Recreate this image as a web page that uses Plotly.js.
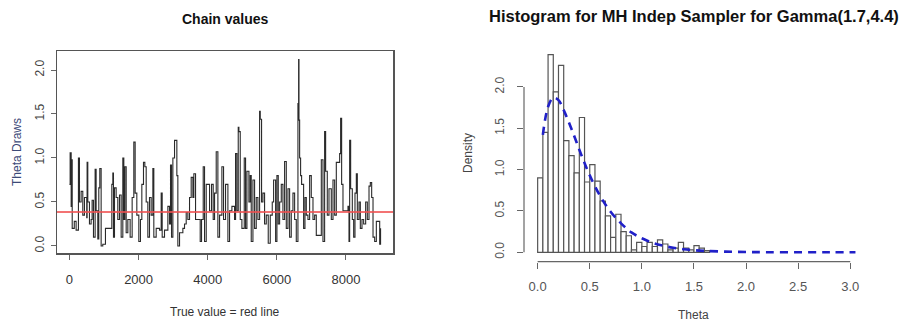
<!DOCTYPE html>
<html>
<head>
<meta charset="utf-8">
<script src="https://cdn.plot.ly/plotly-3.0.1.min.js"></script>
<style>html,body{margin:0;padding:0;background:#fff;}#chart{width:901px;height:321px;}</style>
</head>
<body>
<div id="chart"></div>
<script>
// ---- Left panel: MCMC chain trace ----
const chainIter = [0,20,50,60,80,140,193,260,290,338,386,434,500,511,531,579,627,656,695,743,772,820,849,878,917,965,1042,1158,1226,1255,1274,1303,1351,1399,1448,1496,1544,1573,1602,1641,1689,1756,1814,1862,1901,1949,2007,2055,2094,2142,2181,2220,2268,2316,2364,2413,2441,2509,2606,2654,2683,2750,2818,2847,2895,2924,2953,2992,3040,3107,3136,3185,3281,3329,3378,3426,3474,3522,3571,3599,3648,3715,3783,3821,3870,3908,3957,4053,4111,4159,4198,4246,4294,4343,4410,4458,4516,4584,4632,4700,4777,4806,4844,4883,4902,4941,4989,5057,5095,5134,5192,5230,5259,5308,5356,5404,5452,5501,5520,5558,5597,5645,5694,5751,5809,5867,5906,5964,6002,6041,6080,6128,6176,6224,6273,6321,6369,6417,6466,6514,6562,6610,6630,6640,6659,6687,6716,6774,6813,6852,6900,6948,6996,7045,7093,7141,7238,7286,7334,7382,7411,7459,7508,7575,7624,7672,7720,7768,7817,7845,7874,7913,8010,8058,8087,8106,8135,8183,8222,8260,8299,8328,8376,8415,8463,8511,8569,8617,8666,8704,8743,8782,8830,8878,8926,8975,9000];
const chainVal = [0.7,1.06,0.45,0.98,0.2,0.28,0.18,1.0,0.5,0.62,0.35,0.55,0.32,0.95,0.5,0.25,0.3,0.52,0.1,0.87,0.4,0.08,0.66,0.88,0.0,0.02,0.2,0.2,0.7,0.83,0.1,0.66,0.55,0.3,0.58,0.1,1.0,0.3,0.9,0.15,0.3,0.1,0.55,1.18,0.6,0.35,0.05,0.3,0.7,0.95,0.9,0.5,0.1,0.55,0.35,0.88,0.1,0.2,0.18,0.6,0.1,0.18,0.18,0.45,0.25,0.92,0.1,1.0,1.2,0.8,0.0,0.15,0.2,0.25,0.38,0.3,0.55,0.78,0.55,0.82,0.3,0.3,0.05,0.3,0.9,0.05,0.7,0.4,0.7,0.3,0.6,1.07,0.1,0.35,0.9,0.3,0.7,0.05,0.4,0.45,0.3,1.05,0.4,1.35,1.3,0.3,0.2,1.0,0.2,0.85,0.5,0.8,0.05,0.75,0.2,0.55,0.3,1.53,1.44,0.5,0.6,0.25,0.35,0.03,0.35,0.5,0.75,0.05,0.8,0.25,0.5,0.7,0.3,0.96,0.2,0.65,0.1,0.4,0.6,0.3,0.05,1.62,2.12,1.43,1.0,0.8,0.7,0.2,0.55,0.35,0.3,0.8,0.55,0.3,0.35,0.12,0.12,0.98,0.05,1.3,0.85,0.35,0.65,0.3,0.75,0.35,0.95,0.95,1.05,1.45,0.7,0.4,0.4,0.45,0.05,1.2,0.65,0.3,0.1,0.6,0.82,0.3,0.5,0.2,0.3,0.25,0.5,0.3,0.68,0.72,0.55,0.1,0.05,0.28,0.28,0.02,0.2];
const trueValue = 0.386;
const chainTicksX = [0, 2000, 4000, 6000, 8000];
const chainTicksY = [0.0, 0.5, 1.0, 1.5, 2.0];
const chainTickTextY = ["0.0", "0.5", "1.0", "1.5", "2.0"];

// ---- Right panel: histogram of draws (density per 0.05 bin) + Gamma density ----
const binWidth = 0.05;
const binLower = [0.00,0.05,0.10,0.15,0.20,0.25,0.30,0.35,0.40,0.45,0.50,0.55,0.60,0.65,0.70,0.75,0.80,0.85,0.90,0.95,1.00,1.05,1.10,1.15,1.20,1.25,1.30,1.35,1.40,1.45,1.50,1.55,1.60];
const binDensity = [0.90,1.45,2.39,1.94,2.26,1.35,1.17,0.96,1.63,0.85,1.06,0.86,0.62,0.44,0.18,0.46,0.25,0.20,0.03,0.12,0.07,0.12,0.07,0.15,0.10,0.03,0.05,0.12,0.05,0.03,0.08,0.05,0.02];
const curveX = [0.05,0.10,0.15,0.20,0.25,0.30,0.35,0.40,0.45,0.50,0.60,0.70,0.80,0.90,1.00,1.10,1.20,1.30,1.40,1.50,1.60,1.80,2.00,2.20,2.50,2.80,3.05];
const curveY = [1.42,1.76,1.87,1.84,1.72,1.57,1.41,1.24,1.08,0.93,0.68,0.49,0.35,0.24,0.17,0.115,0.08,0.055,0.037,0.025,0.017,0.008,0.003,0.001,0,0,0];
const histTicksX = [0, 0.5, 1.0, 1.5, 2.0, 2.5, 3.0];
const histTickTextX = ["0.0","0.5","1.0","1.5","2.0","2.5","3.0"];
const histTicksY = [0, 0.5, 1.0, 1.5, 2.0];
const histTickTextY = ["0.0","0.5","1.0","1.5","2.0"];

const W = 901, H = 321;
const px = v => v / W;
const py = v => 1 - v / H;

const narrow = '"Liberation Sans Narrow", "Arial Narrow", "Liberation Sans", Arial, sans-serif';
const sans = '"Liberation Sans", Arial, sans-serif';

const traces = [
  {
    type: 'scatter', mode: 'lines', x: chainIter, y: chainVal,
    line: {color: '#2a2a2a', width: 1.1, shape: 'hv'},
    xaxis: 'x', yaxis: 'y', hoverinfo: 'skip', showlegend: false
  },
  {
    type: 'bar', x: binLower.map(b => b + binWidth / 2), y: binDensity, width: binWidth,
    marker: {color: '#ffffff', line: {color: '#555555', width: 1.2}},
    xaxis: 'x2', yaxis: 'y2', hoverinfo: 'skip', showlegend: false
  },
  {
    type: 'scatter', mode: 'lines', x: curveX, y: curveY,
    line: {color: '#2020c8', width: 2.6, dash: '8px,6px', shape: 'spline'},
    xaxis: 'x2', yaxis: 'y2', hoverinfo: 'skip', showlegend: false
  }
];

const layout = {
  width: W, height: H,
  margin: {l: 0, r: 0, t: 0, b: 0},
  paper_bgcolor: '#ffffff', plot_bgcolor: '#ffffff',
  showlegend: false,
  bargap: 0,
  xaxis: {
    domain: [px(57), px(393)], range: [-360, 9360],
    tickvals: chainTicksX, ticktext: chainTicksX.map(String),
    ticks: 'outside', ticklen: 5, tickcolor: '#666', tickwidth: 1,
    ticklabelstandoff: 9,
    showgrid: false, zeroline: false,
    showline: true, mirror: true, linecolor: '#555', linewidth: 1.5,
    tickfont: {family: narrow, size: 13, color: '#333'},
    anchor: 'y'
  },
  yaxis: {
    domain: [py(253), py(51)], range: [-0.08, 2.216],
    tickvals: chainTicksY, ticktext: chainTickTextY, tickangle: -90,
    ticks: 'outside', ticklen: 5, tickcolor: '#666', tickwidth: 1,
    ticklabelstandoff: 2,
    showgrid: false, zeroline: false,
    showline: true, mirror: true, linecolor: '#555', linewidth: 1.5,
    tickfont: {family: sans, size: 12, color: '#444'},
    anchor: 'x'
  },
  xaxis2: {
    domain: [px(524), px(869)], range: [-0.131, 3.18],
    tickvals: histTicksX, ticktext: histTickTextX,
    ticks: 'outside', ticklen: 6, tickcolor: '#666', tickwidth: 1,
    ticklabelstandoff: 7,
    showgrid: false, zeroline: false, showline: false,
    tickfont: {family: sans, size: 13, color: '#555'},
    anchor: 'y2'
  },
  yaxis2: {
    domain: [py(261.7), py(45.6)], range: [-0.114, 2.5],
    tickvals: histTicksY, ticktext: histTickTextY, tickangle: -90,
    ticks: 'outside', ticklen: 6, tickcolor: '#666', tickwidth: 1,
    ticklabelstandoff: 8,
    showgrid: false, zeroline: false, showline: false,
    tickfont: {family: sans, size: 12, color: '#555'},
    anchor: 'x2'
  },
  shapes: [
    {type: 'line', xref: 'x domain', yref: 'y', x0: 0, x1: 1, y0: trueValue, y1: trueValue,
     line: {color: 'rgba(240,80,80,0.8)', width: 2}},
    {type: 'line', xref: 'x2', yref: 'y2 domain', x0: histTicksX[0], x1: histTicksX[histTicksX.length - 1], y0: 0, y1: 0,
     line: {color: '#666', width: 1.2}},
    {type: 'line', xref: 'x2 domain', yref: 'y2', x0: 0, x1: 0, y0: histTicksY[0], y1: histTicksY[histTicksY.length - 1],
     line: {color: '#666', width: 1.2}}
  ],
  annotations: [
    {text: '<b>Chain values</b>', xref: 'paper', yref: 'paper', x: px(225), y: py(19),
     showarrow: false, xanchor: 'center', yanchor: 'middle', font: {family: narrow, size: 14, color: '#111'}},
    {text: 'True value = red line', xref: 'paper', yref: 'paper', x: px(225), y: py(312),
     showarrow: false, xanchor: 'center', yanchor: 'middle', font: {family: narrow, size: 12, color: '#333'}},
    {text: 'Theta Draws', xref: 'paper', yref: 'paper', x: px(17), y: py(152), textangle: -90,
     showarrow: false, xanchor: 'center', yanchor: 'middle', font: {family: sans, size: 12, color: '#3c4a78'}},
    {text: '<b>Histogram for MH Indep Sampler for Gamma(1.7,4.4)</b>', xref: 'paper', yref: 'paper', x: px(694), y: py(16),
     showarrow: false, xanchor: 'center', yanchor: 'middle', font: {family: sans, size: 16.5, color: '#111'}},
    {text: 'Theta', xref: 'paper', yref: 'paper', x: px(693), y: py(315),
     showarrow: false, xanchor: 'center', yanchor: 'middle', font: {family: sans, size: 12, color: '#444'}},
    {text: 'Density', xref: 'paper', yref: 'paper', x: px(468), y: py(153), textangle: -90,
     showarrow: false, xanchor: 'center', yanchor: 'middle', font: {family: sans, size: 12, color: '#444'}}
  ]
};

Plotly.newPlot('chart', traces, layout, {staticPlot: true, displayModeBar: false});
</script>
</body>
</html>
